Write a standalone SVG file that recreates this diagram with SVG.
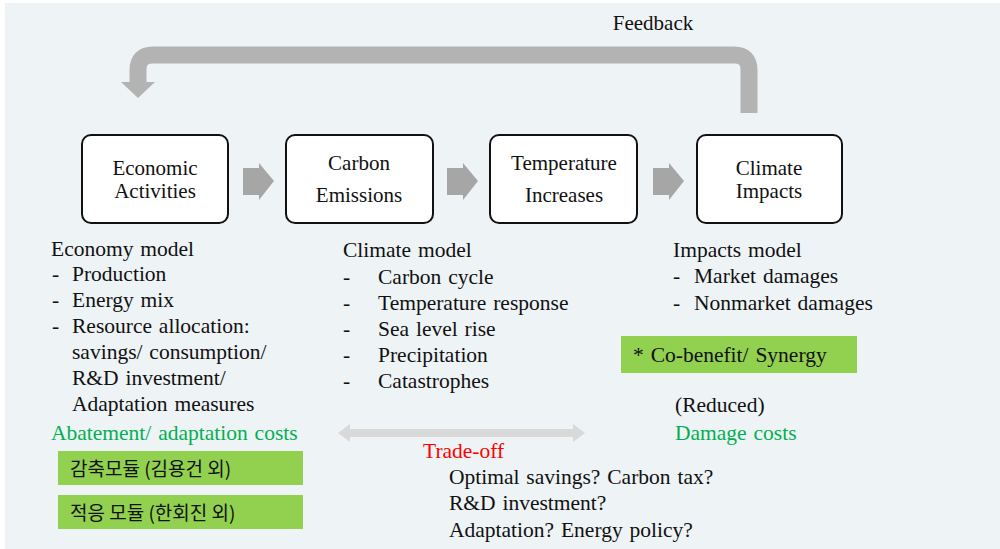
<svg xmlns="http://www.w3.org/2000/svg" width="1000" height="549" viewBox="0 0 1000 549">
<style>
.t{font-family:"Liberation Serif","Times New Roman",serif;font-size:21px;fill:#111}
.b{font-size:21.5px;word-spacing:1.5px}
.c{text-anchor:middle}
.g{fill:#00b050}
.r{fill:#ff0000}
.k{font-family:"Noto Sans CJK KR","Noto Sans",sans-serif;font-size:19px;fill:#111}
.box{fill:#fff;stroke:#111;stroke-width:2}
.gb{fill:#92d050}
.ar{fill:#a6a6a6}
</style>
<rect x="0" y="0" width="1000" height="549" fill="#fff"/>
<rect x="5" y="3" width="995" height="546" fill="#eef3f6"/>

<g id="connectors">
  <path d="M749 113 V70 Q749 55 734 55 H153 Q138 55 138 70 V83" fill="none" stroke="#b3b3b3" stroke-width="17"/>
  <polygon points="121,82 155,82 138,98" fill="#b3b3b3"/>
  <polygon class="ar" points="243,168 259,168 259,163 274,181 259,200 259,195 243,195"/>
  <polygon class="ar" points="447,168 463,168 463,163 478,181 463,200 463,195 447,195"/>
  <polygon class="ar" points="653,168 669,168 669,163 684,181 669,200 669,195 653,195"/>
  <polygon points="338,433 350,424 350,429 573,429 573,424 585,433 573,442 573,437 350,437 350,442" fill="#d9d9d9"/>
</g>

<g id="feedback-label"><text class="t c" x="653" y="30">Feedback</text></g>

<g id="node-economic">
  <rect class="box" x="82" y="135" width="146" height="88" rx="9"/>
  <text class="t c" x="155" y="175">Economic</text>
  <text class="t c" x="155" y="198">Activities</text>
</g>
<g id="node-carbon">
  <rect class="box" x="286" y="135" width="147" height="88" rx="9"/>
  <text class="t c" x="359" y="170">Carbon</text>
  <text class="t c" x="359" y="202">Emissions</text>
</g>
<g id="node-temperature">
  <rect class="box" x="490" y="135" width="147" height="88" rx="9"/>
  <text class="t c" x="564" y="170">Temperature</text>
  <text class="t c" x="564" y="202">Increases</text>
</g>
<g id="node-climate">
  <rect class="box" x="697" y="135" width="145" height="88" rx="9"/>
  <text class="t c" x="769" y="175">Climate</text>
  <text class="t c" x="769" y="198">Impacts</text>
</g>

<g id="economy-model">
  <text class="t b" x="51" y="256">Economy model</text>
  <text class="t b" x="52" y="281">-</text><text class="t b" x="72" y="281">Production</text>
  <text class="t b" x="52" y="307">-</text><text class="t b" x="72" y="307">Energy mix</text>
  <text class="t b" x="52" y="333">-</text><text class="t b" x="72" y="333">Resource allocation:</text>
  <text class="t b" x="72" y="359">savings/ consumption/</text>
  <text class="t b" x="72" y="385">R&amp;D investment/</text>
  <text class="t b" x="72" y="411">Adaptation measures</text>
  <text class="t b g" x="51" y="440">Abatement/ adaptation costs</text>
</g>
<g id="module-abatement">
  <rect class="gb" x="58" y="451" width="245" height="34"/>
  <text class="k" x="70" y="476">감축모듈 (김용건 외)</text>
</g>
<g id="module-adaptation">
  <rect class="gb" x="58" y="495" width="245" height="34"/>
  <text class="k" x="70" y="520">적응 모듈 (한회진 외)</text>
</g>

<g id="climate-model">
  <text class="t b" x="343" y="257">Climate model</text>
  <text class="t b" x="343" y="284">-</text><text class="t b" x="378" y="284">Carbon cycle</text>
  <text class="t b" x="343" y="310">-</text><text class="t b" x="378" y="310">Temperature response</text>
  <text class="t b" x="343" y="336">-</text><text class="t b" x="378" y="336">Sea level rise</text>
  <text class="t b" x="343" y="362">-</text><text class="t b" x="378" y="362">Precipitation</text>
  <text class="t b" x="343" y="388">-</text><text class="t b" x="378" y="388">Catastrophes</text>
</g>

<g id="tradeoff">
  <text class="t b r" x="423" y="458">Trade-off</text>
  <text class="t b" x="449" y="484">Optimal savings? Carbon tax?</text>
  <text class="t b" x="449" y="510">R&amp;D investment?</text>
  <text class="t b" x="449" y="537">Adaptation? Energy policy?</text>
</g>

<g id="impacts-model">
  <text class="t b" x="673" y="257">Impacts model</text>
  <text class="t b" x="673" y="283">-</text><text class="t b" x="694" y="283">Market damages</text>
  <text class="t b" x="673" y="310">-</text><text class="t b" x="694" y="310">Nonmarket damages</text>
</g>
<g id="cobenefit">
  <rect class="gb" x="621" y="336" width="236" height="37"/>
  <text class="t b" x="633" y="362">* Co-benefit/ Synergy</text>
</g>
<g id="damage">
  <text class="t b" x="675" y="412">(Reduced)</text>
  <text class="t b g" x="675" y="440">Damage costs</text>
</g>
</svg>
